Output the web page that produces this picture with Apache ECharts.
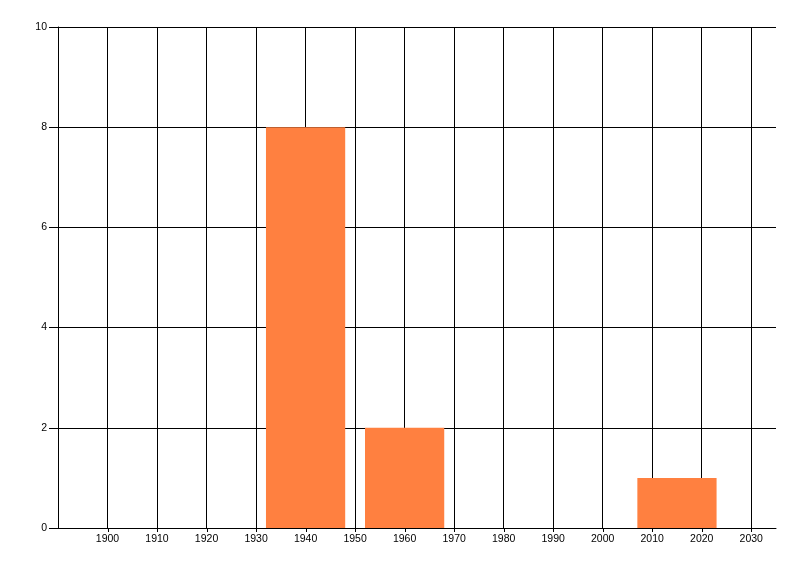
<!DOCTYPE html>
<html>
<head>
<meta charset="utf-8">
<script src="https://cdn.jsdelivr.net/npm/echarts@6/dist/echarts.min.js"></script>
<style>
html,body{margin:0;padding:0;background:#fff;}
#chart{width:800px;height:576px;}
</style>
</head>
<body>
<div id="chart"></div>
<script>
// Data
var binCenters = [1940, 1960, 2015];
var binCounts = [8, 2, 1];
var binWidthYears = 16;
var xTickValues = [1900, 1910, 1920, 1930, 1940, 1950, 1960, 1970, 1980, 1990, 2000, 2010, 2020, 2030];
var xMin = 1890, xMax = 2035, xStep = 10;
var yMin = 0, yMax = 10, yStep = 2;

var chart = echarts.init(document.getElementById('chart'), null, {renderer: 'canvas'});
var data = binCenters.map(function (c, i) { return [c, binCounts[i]]; });
var tickData = xTickValues.map(function (v) { return [v, 0]; });

var labelFont = {color: '#000', fontSize: 10.5, fontFamily: 'Liberation Sans, Arial, sans-serif'};

chart.setOption({
  animation: false,
  backgroundColor: '#fff',
  grid: {left: 58, right: 24, top: 27, bottom: 48, containLabel: false},
  xAxis: {
    type: 'value', min: xMin, max: xMax, interval: xStep,
    axisLine: {show: true, lineStyle: {color: '#000', width: 1}},
    axisTick: {show: false},
    axisLabel: Object.assign({
      margin: 6,
      showMaxLabel: false,
      formatter: function (v) { return (v === xMin || v % xStep !== 0) ? '' : String(v); }
    }, labelFont),
    splitLine: {show: true, showMinLine: false, showMaxLine: false, lineStyle: {color: '#000', width: 1}}
  },
  yAxis: {
    type: 'value', min: yMin, max: yMax, interval: yStep,
    axisLine: {show: true, lineStyle: {color: '#000', width: 1}},
    axisTick: {show: true, length: 9, lineStyle: {color: '#000'}},
    axisLabel: Object.assign({margin: 11}, labelFont),
    splitLine: {show: true, showMinLine: false, lineStyle: {color: '#000', width: 1}}
  },
  series: [{
    type: 'custom',
    data: data,
    encode: {x: 0, y: 1},
    renderItem: function (params, api) {
      var c = api.value(0), v = api.value(1);
      var p0 = api.coord([c - binWidthYears / 2, v]);
      var p1 = api.coord([c + binWidthYears / 2, 0]);
      return {
        type: 'rect',
        shape: {x: p0[0], y: p0[1], width: p1[0] - p0[0], height: p1[1] - p0[1]},
        style: {fill: '#FF8040'}
      };
    }
  }, {
    type: 'custom',
    data: tickData,
    encode: {x: 0, y: 1},
    clip: false,
    silent: true,
    renderItem: function (params, api) {
      var p = api.coord([api.value(0), 0]);
      var x = Math.round(p[0]) + 0.5;
      var y = Math.round(p[1]);
      return {
        type: 'line',
        shape: {x1: x, y1: y, x2: x, y2: y + 4},
        style: {stroke: '#000', lineWidth: 1}
      };
    }
  }]
});
</script>
</body>
</html>
